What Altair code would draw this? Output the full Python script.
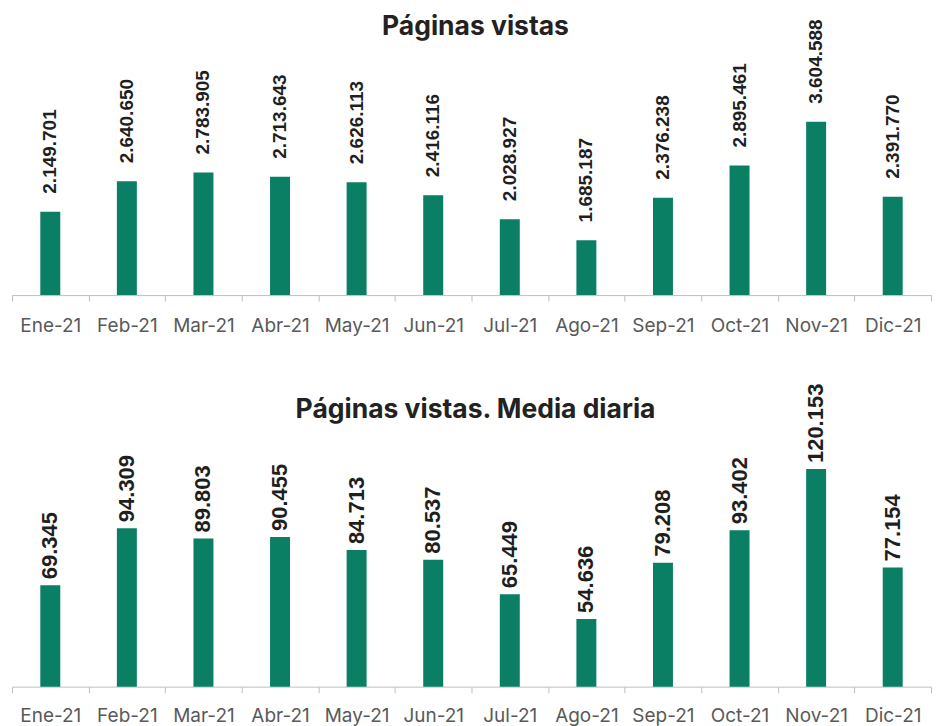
import altair as alt
import pandas as pd

months = ["Ene-21", "Feb-21", "Mar-21", "Abr-21", "May-21", "Jun-21",
          "Jul-21", "Ago-21", "Sep-21", "Oct-21", "Nov-21", "Dic-21"]
vistas = [2149701, 2640650, 2783905, 2713643, 2626113, 2416116,
          2028927, 1685187, 2376238, 2895461, 3604588, 2391770]
media = [69345, 94309, 89803, 90455, 84713, 80537,
         65449, 54636, 79208, 93402, 120153, 77154]
titles = ["Páginas vistas", "Páginas vistas. Media diaria"]

W = 920


def fmt(v):
    return f"{v:,}".replace(",", ".")


def panel(values, title, domain, height, label_size, dx, title_y, lab_pad):
    df = pd.DataFrame({"mes": months, "v": values, "lab": [fmt(v) for v in values]})
    base = alt.Chart(df).encode(
        x=alt.X("mes:N", sort=months,
                scale=alt.Scale(paddingInner=0, paddingOuter=0, round=False),
                axis=alt.Axis(title=None, tickBand="extent", labelAngle=0,
                              labelFont="Inter", labelFontSize=19,
                              labelColor="#595959", domainColor="#bfbfbf",
                              tickColor="#bfbfbf", tickSize=6, labelPadding=lab_pad,
                              grid=False))
    )
    bars = base.mark_bar(width=20, color="#0a7f63").encode(
        y=alt.Y("v:Q", scale=alt.Scale(domain=domain, zero=False, nice=False), axis=None),
        y2=alt.datum(domain[0]),
    )
    text = base.mark_text(angle=270, align="left", baseline="middle", dx=dx,
                          font="Liberation Sans", fontWeight="bold",
                          fontSize=label_size, color="#1f1f1f").encode(
        y="v:Q", text="lab:N")
    ttl = alt.Chart(pd.DataFrame({"t": [title]})).mark_text(
        font="Inter", fontSize=26.5, fontWeight="bold", color="#222222",
        align="center", baseline="alphabetic").encode(
        x=alt.value(W / 2 + 4), y=alt.value(title_y), text="t:N")
    return (bars + text + ttl).properties(width=W, height=height)


top = panel(vistas, titles[0], [800000, 5439000], 287, 19, 18, 27, 15)
bottom = panel(media, titles[1], [25000, 159090], 307, 22, 6, 38, 14)

chart = alt.vconcat(top, bottom, spacing=85, bounds="flush").properties(
    padding={"left": 3, "top": 0, "right": 0, "bottom": 0}
).configure_view(stroke=None)

chart.save("out.html", embed_options={"renderer": "svg", "actions": False})
